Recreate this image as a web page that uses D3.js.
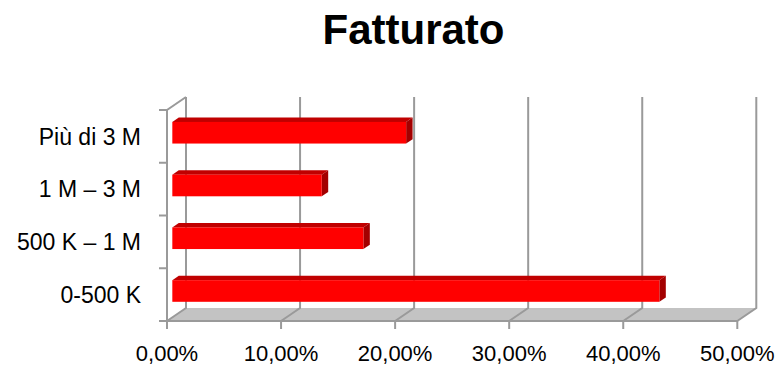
<!DOCTYPE html>
<html>
<head>
<meta charset="utf-8">
<script src="https://cdn.jsdelivr.net/npm/d3@7/dist/d3.min.js"></script>
<style>
  html, body { margin: 0; padding: 0; background: #fff; }
  svg { display: block; font-family: "Liberation Sans", Arial, sans-serif; }
</style>
</head>
<body>
<svg id="chart" width="782" height="366"></svg>
<script>
// Revenue bands (top to bottom) and their share of respondents
const categories = ["Più di 3 M", "1 M – 3 M", "500 K – 1 M", "0-500 K"];
const shares = [0.205, 0.131, 0.1675, 0.427];
const xTicks = [0, 0.1, 0.2, 0.3, 0.4, 0.5];
const title = "Fatturato";

const svg = d3.select("#chart");

// Front plane of the 3D box and depth offset towards the back wall
const frontLeft = 167, frontRight = 737.3, frontTop = 110, frontBottom = 321;
const DX = 19, DY = -13;
const barFront = 0.28, barBack = 0.62;   // bar depth as fraction of box depth

const x = d3.scaleLinear().domain([0, 0.5]).range([frontLeft, frontRight]);
const yOuter = d3.scaleBand().domain(categories).range([frontTop, frontBottom]);
const y = d3.scaleBand().domain(categories).range([frontTop, frontBottom])
  .paddingInner(0.59).paddingOuter(0.295);

const it = d3.formatLocale({ decimal: ",", thousands: ".", grouping: [3], currency: ["", "€"] });
const pct = it.format(".2%");

const gridColor = "#9a9a9a";

// Title
svg.append("text")
  .attr("x", 413.5).attr("y", 44)
  .attr("text-anchor", "middle")
  .attr("font-size", 42).attr("font-weight", "bold")
  .attr("fill", "#000")
  .text(title);

// Floor
const floorPts = [
  [frontLeft, frontBottom], [frontRight, frontBottom],
  [frontRight + DX, frontBottom + DY], [frontLeft + DX, frontBottom + DY]
];
svg.append("polygon")
  .attr("points", floorPts.map(p => p.join(",")).join(" "))
  .attr("fill", "#c3c3c3");

// Back-wall gridlines and their continuation across the floor
const grid = svg.append("g").attr("stroke", gridColor).attr("stroke-width", 2).attr("fill", "none");
xTicks.forEach(t => {
  const xf = x(t);
  grid.append("path")
    .attr("d", `M${xf},${frontBottom} L${xf + DX},${frontBottom + DY} L${xf + DX},${frontTop + DY}`);
});

// Left wall edge: vertical axis and top diagonal
grid.append("path")
  .attr("d", `M${frontLeft},${frontBottom} L${frontLeft},${frontTop} L${frontLeft + DX},${frontTop + DY}`);

// Category ticks on the vertical axis
const yBounds = categories.map(c => yOuter(c)).concat([frontBottom]);
grid.selectAll(".ytick").data(yBounds).join("line")
  .attr("x1", frontLeft - 8).attr("x2", frontLeft)
  .attr("y1", d => d).attr("y2", d => d);

// Bottom axis line and ticks
grid.append("line")
  .attr("x1", frontLeft).attr("x2", frontRight)
  .attr("y1", frontBottom).attr("y2", frontBottom);
grid.selectAll(".xtick").data(xTicks).join("line")
  .attr("x1", d => x(d)).attr("x2", d => x(d))
  .attr("y1", frontBottom).attr("y2", frontBottom + 8);

// 3D bars
const bars = svg.append("g");
const fdx = barFront * DX, fdy = barFront * DY;
const bdx = barBack * DX, bdy = barBack * DY;
categories.forEach((c, i) => {
  const x0 = x(0) + fdx, x1 = x(shares[i]) + fdx;
  const yt = y(c) + fdy, yb = yt + y.bandwidth();
  const ox = bdx - fdx, oy = bdy - fdy;
  const g = bars.append("g");
  // top face
  g.append("polygon")
    .attr("points", [[x0, yt], [x1, yt], [x1 + ox, yt + oy], [x0 + ox, yt + oy]].map(p => p.join(",")).join(" "))
    .attr("fill", "#c00000");
  // right face
  g.append("polygon")
    .attr("points", [[x1, yt], [x1 + ox, yt + oy], [x1 + ox, yb + oy], [x1, yb]].map(p => p.join(",")).join(" "))
    .attr("fill", "#a30000");
  // front face
  g.append("rect")
    .attr("x", x0).attr("y", yt)
    .attr("width", x1 - x0).attr("height", yb - yt)
    .attr("fill", "#ff0000");
});

// Category labels
svg.append("g").selectAll("text").data(categories).join("text")
  .attr("x", 141)
  .attr("y", d => yOuter(d) + yOuter.bandwidth() / 2)
  .attr("dy", "0.36em")
  .attr("text-anchor", "end")
  .attr("font-size", 23)
  .attr("fill", "#000")
  .text(d => d);

// Value axis labels
svg.append("g").selectAll("text").data(xTicks).join("text")
  .attr("x", d => x(d))
  .attr("y", 361)
  .attr("text-anchor", "middle")
  .attr("font-size", 22)
  .attr("fill", "#000")
  .text(d => pct(d));
</script>
</body>
</html>
